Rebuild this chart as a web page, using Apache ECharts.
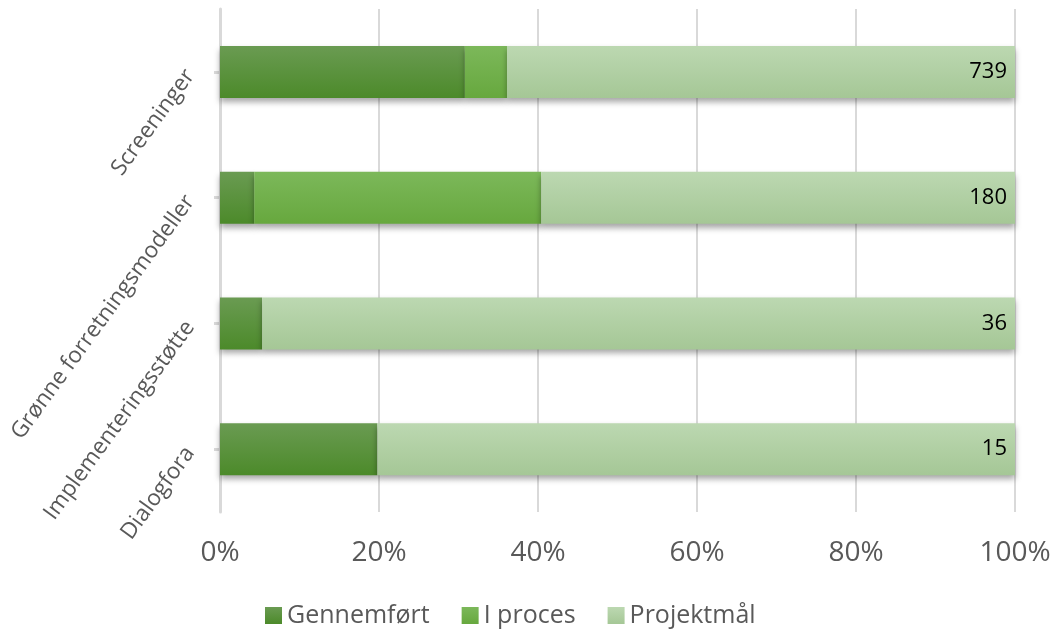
<!DOCTYPE html>
<html>
<head>
<meta charset="utf-8">
<script src="https://cdn.jsdelivr.net/npm/echarts@6/dist/echarts.min.js"></script>
<style>
  html, body { margin: 0; padding: 0; background: #fff; }
  #main { width: 1056px; height: 633px; }
</style>
</head>
<body>
<div id="main"></div>
<script>
// kategorier, øverst først
const categories = ['Screeninger', 'Grønne forretningsmodeller', 'Implementeringsstøtte', 'Dialogfora'];
// andele i procent (100% stablet)
const gennemfort = [30.8, 4.3, 5.3, 19.8];
const iProces = [5.3, 36.1, 0, 0];
const projektmaal = [63.9, 59.6, 94.7, 80.2];
// projektmål som tal (etiketter)
const maalLabels = [739, 180, 36, 15];
const xTicks = [0, 20, 40, 60, 80, 100];

const chart = echarts.init(document.getElementById('main'), null, { renderer: 'canvas' });

function grad(top, bottom) {
  return new echarts.graphic.LinearGradient(0, 0, 0, 1, [
    { offset: 0, color: top },
    { offset: 1, color: bottom }
  ]);
}

const barStyle = (top, bottom) => ({
  color: grad(top, bottom),
  shadowColor: 'rgba(0,0,0,0.35)',
  shadowBlur: 6,
  shadowOffsetY: 4
});

const font = '"Open Sans", sans-serif';

var option = {
  backgroundColor: '#fff',
  animation: false,
  textStyle: { fontFamily: font },
  grid: {
    left: 220,
    right: 41,
    top: 9,
    bottom: 121,
    containLabel: false,
    outerBoundsMode: 'none'
  },
  legend: {
    bottom: 0,
    left: 260,
    itemWidth: 17,
    itemHeight: 17,
    itemGap: 32,
    icon: 'rect',
    textStyle: { fontSize: 25, color: '#595959', fontFamily: font },
    data: ['Gennemført', 'I proces', 'Projektmål']
  },
  xAxis: {
    type: 'value',
    min: 0,
    max: 100,
    interval: 20,
    axisLine: { show: false },
    axisTick: { show: false },
    axisLabel: {
      color: '#595959',
      fontSize: 28,
      margin: 27,
      formatter: v => xTicks.includes(v) ? v + '%' : ''
    },
    splitLine: { show: true, lineStyle: { color: '#d9d9d9', width: 2 } }
  },
  yAxis: {
    type: 'category',
    inverse: true,
    data: categories,
    axisLine: { show: true, lineStyle: { color: '#d9d9d9', width: 3 } },
    axisTick: { show: true, alignWithLabel: true, length: 6, lineStyle: { color: '#d9d9d9', width: 3 } },
    axisLabel: {
      color: '#595959',
      fontSize: 22.5,
      rotate: 54,
      margin: 30
    }
  },
  series: [
    {
      name: 'Gennemført',
      type: 'bar',
      stack: 'tot',
      barWidth: 52,
      itemStyle: barStyle('#6a9b52', '#4c8a2a'),
      data: gennemfort
    },
    {
      name: 'I proces',
      type: 'bar',
      stack: 'tot',
      itemStyle: barStyle('#7cb85a', '#67a83e'),
      data: iProces
    },
    {
      name: 'Projektmål',
      type: 'bar',
      stack: 'tot',
      itemStyle: barStyle('#bcd8b1', '#a5c796'),
      label: {
        show: true,
        position: 'insideRight',
        distance: 8,
        color: '#000',
        fontSize: 22,
        fontFamily: font,
        formatter: p => maalLabels[p.dataIndex]
      },
      data: projektmaal
    }
  ]
};
chart.setOption(option);
</script>
</body>
</html>
